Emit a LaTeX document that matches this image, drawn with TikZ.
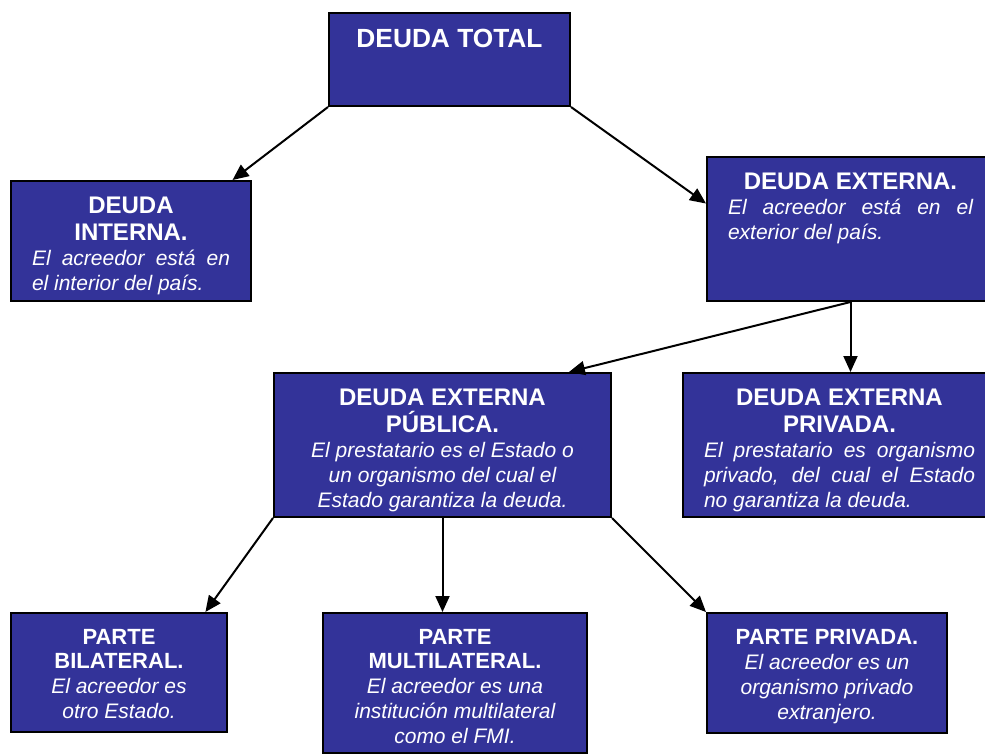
\documentclass[tikz,border=0pt]{standalone}
\usepackage{fontspec}
\setmainfont{Liberation Sans}
\usetikzlibrary{arrows.meta}
\definecolor{azul}{RGB}{51,51,153}
\newcommand{\encab}{\fontsize{24}{27}\selectfont\bfseries}
\newcommand{\encabmenor}{\fontsize{22}{24.5}\selectfont\bfseries}
\newcommand{\texto}{\fontsize{21}{25}\selectfont\itshape}
\newcommand{\contenido}[3]{\parbox[t][#2][t]{#1}{\centering\vspace*{16pt}#3}}

\begin{document}
\begin{tikzpicture}[x=1pt,y=-1pt,
	caja/.style={draw=black,fill=azul,line width=2pt,inner sep=0pt,anchor=north west,text=white},
	flecha/.style={line width=2pt,-{Triangle[length=16pt,width=14pt]}}]
	\useasboundingbox (0,0) rectangle (985,753);

	\node[caja] (total) at (328,12) {\contenido{241pt}{93pt}{\fontsize{26.3}{30}\selectfont\bfseries DEUDA TOTAL}};
	\node[caja] (interna) at (10,180) {\contenido{240pt}{120pt}{{\encab DEUDA\\INTERNA.\par}{\texto\makebox[198pt][s]{El acreedor está en}\\\makebox[198pt][l]{el interior del país.}\par}}};
	\node[caja] (externa) at (706,156) {\contenido{287pt}{144pt}{{\encab DEUDA EXTERNA.\par}{\texto\makebox[245pt][s]{El acreedor está en el}\\\makebox[245pt][l]{exterior del país.}\par}}};
	\node[caja] (publica) at (273,372) {\contenido{337pt}{144pt}{{\encab DEUDA EXTERNA\\PÚBLICA.\par}{\texto El prestatario es el Estado o\\un organismo del cual el\\Estado garantiza la deuda.\par}}};
	\node[caja] (privada) at (682,372) {\contenido{313pt}{144pt}{{\encab DEUDA EXTERNA\\PRIVADA.\par}{\texto\makebox[271pt][s]{El prestatario es organismo}\\\makebox[271pt][s]{privado, del cual el Estado}\\\makebox[271pt][l]{no garantiza la deuda.}\par}}};
	\node[caja] (bilateral) at (10,612) {\contenido{216pt}{119pt}{{\encabmenor PARTE\\BILATERAL.\par}{\texto El acreedor es\\otro Estado.\par}}};
	\node[caja] (multilateral) at (322,612) {\contenido{264pt}{140pt}{{\encabmenor PARTE\\MULTILATERAL.\par}{\texto El acreedor es una\\institución multilateral\\como el FMI.\par}}};
	\node[caja] (pprivada) at (706,612) {\contenido{240pt}{120pt}{{\encabmenor PARTE PRIVADA.\par}{\texto El acreedor es un\\organismo privado\\extranjero.\par}}};

	\draw (total.south west) [flecha] -- (interna.31.5);
	\draw (total.south east) [flecha] -- (externa.170);
	\draw (externa.south) [flecha] -- (publica.30.2);
	\draw (externa.south) [flecha] -- (externa.south |- privada.north);
	\draw (publica.south west) [flecha] -- (bilateral.35.3);
	\draw (publica.south) [flecha] -- (publica.south |- multilateral.north);
	\draw (publica.south east) [flecha] -- (pprivada.north west);
\end{tikzpicture}
\end{document}
